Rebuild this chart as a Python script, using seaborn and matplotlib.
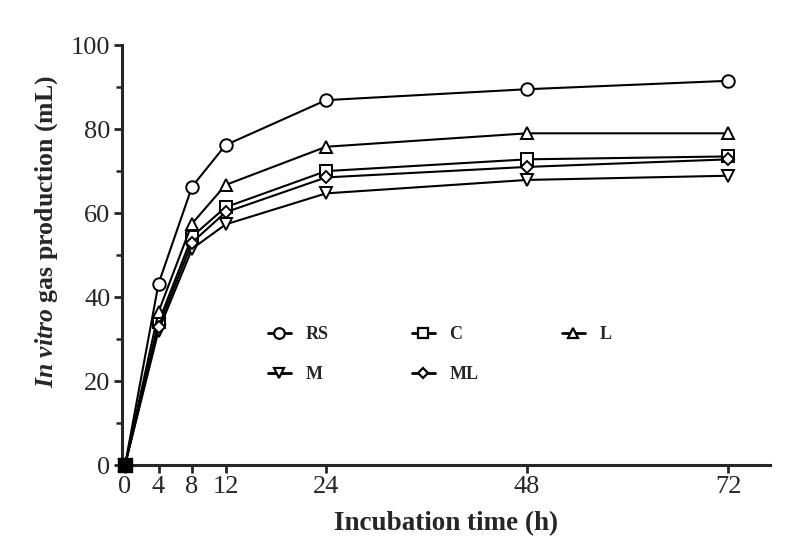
import numpy as np
import pandas as pd
import matplotlib.pyplot as plt
import seaborn as sns

# incubation times (h)
time_h = [0, 4, 8, 12, 24, 48, 72]

# gas production (mL)
rs = [0, 43.2, 66.3, 76.2, 86.9, 89.5, 91.5]
c = [0, 34.0, 54.4, 61.4, 70.0, 72.8, 73.5]
l = [0, 36.5, 57.5, 66.7, 75.8, 79.0, 79.0]
m = [0, 32.0, 51.5, 57.3, 64.7, 67.9, 68.9]
ml = [0, 33.0, 53.0, 60.2, 68.5, 71.0, 72.8]

series_names = ["RS", "C", "L", "M", "ML"]
series_values = [rs, c, l, m, ml]
markers = {"RS": "o", "C": "s", "L": "^", "M": "v", "ML": "D"}
msizes = {"RS": 9, "C": 9, "L": 9, "M": 9, "ML": 6.5}

x_ticks = [0, 4, 8, 12, 24, 48, 72]
y_ticks = [0, 20, 40, 60, 80, 100]

df = pd.DataFrame({
    "time": np.tile(time_h, len(series_names)),
    "gas": np.concatenate(series_values),
    "group": np.repeat(series_names, len(time_h)),
})

sns.set_style("ticks")
plt.rcParams["font.family"] = ["Liberation Serif", "DejaVu Serif"]
plt.rcParams["mathtext.fontset"] = "custom"
plt.rcParams["mathtext.rm"] = "Liberation Serif"
plt.rcParams["mathtext.it"] = "Liberation Serif:italic"
plt.rcParams["mathtext.bf"] = "Liberation Serif:bold"
plt.rcParams["mathtext.bfit"] = "Liberation Serif:italic:bold"

fig = plt.figure(figsize=(7.85, 5.57), dpi=100)
ax = fig.add_axes([0.155, 0.165, 0.826, 0.754])

for name, vals in zip(series_names, series_values):
    sub = df[df["group"] == name]
    sns.lineplot(data=sub, x="time", y="gas", color="black",
                 marker=markers[name], markersize=msizes[name],
                 markerfacecolor="white", markeredgecolor="black",
                 markeredgewidth=1.4, linewidth=1.5, ax=ax, legend=False,
                 clip_on=False)

# filled origin point
ax.scatter([time_h[0]], [rs[0]], marker="s", s=90, color="black",
           zorder=5, clip_on=False)

ax.set_xlim(-0.4, 77)
ax.set_ylim(0, 100)
ax.set_xticks(x_ticks)
ax.set_yticks(y_ticks)
ax.set_yticks([10, 30, 50, 70, 90], minor=True)
ax.tick_params(axis="both", which="major", labelsize=19, length=6, width=2,
               direction="out", pad=2)
ax.tick_params(axis="y", which="minor", length=4, width=1.8)
for side in ["left", "bottom"]:
    ax.spines[side].set_linewidth(2.2)
sns.despine(ax=ax)

ax.set_xlabel("Incubation time (h)", fontsize=19.5, fontweight="bold", labelpad=9)
ax.set_ylabel(r"$\bfit{In\ vitro}$ gas production (mL)", fontsize=18.5,
              fontweight="bold")
ax.yaxis.set_label_coords(-0.095, 0.555)

# legend with hollow markers, filled row by row
legend_order = ["RS", "M", "C", "ML", "L"]
handles = []
for name in legend_order:
    h, = ax.plot([], [], color="black", linewidth=2, marker=markers[name],
                 markersize=msizes[name] * 0.85, markerfacecolor="white",
                 markeredgecolor="black", markeredgewidth=1.6)
    handles.append(h)
leg = ax.legend(handles, legend_order, ncol=3, frameon=False,
                loc="upper left", bbox_to_anchor=(0.2, 0.37),
                prop={"weight": "bold", "size": 13},
                handlelength=1.3, columnspacing=4.6, labelspacing=1.3,
                handletextpad=0.8)

fig.savefig("out.png", dpi=100)
